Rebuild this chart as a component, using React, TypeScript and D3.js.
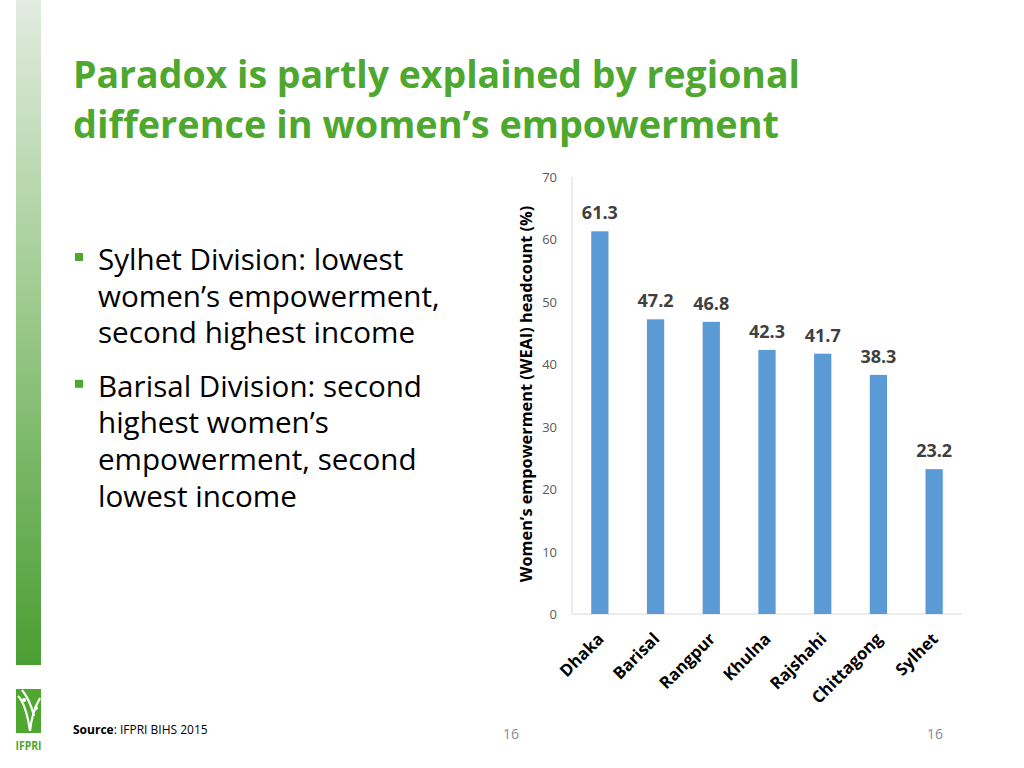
import React from "react";
import * as d3 from "d3";

const divisions = ["Dhaka", "Barisal", "Rangpur", "Khulna", "Rajshahi", "Chittagong", "Sylhet"];
const weai = [61.3, 47.2, 46.8, 42.3, 41.7, 38.3, 23.2];
const yTicks = [0, 10, 20, 30, 40, 50, 60, 70];
const titleLines = ["Paradox is partly explained by regional", "difference in women’s empowerment"];
const titleWidths = [727, 706];
const bullets = [
  ["Sylhet Division: lowest", "women’s empowerment,", "second highest income"],
  ["Barisal Division: second", "highest women’s", "empowerment, second", "lowest income"],
];

const font = "'Open Sans', Lato, sans-serif";

export default function App() {
  const left = 572;
  const right = 962;
  const top = 177;
  const bottom = 614;

  const x = d3.scaleBand().domain(divisions).range([left, right]).paddingInner(0.69).paddingOuter(0.345);
  const y = d3.scaleLinear().domain([0, 70]).range([bottom, top]);

  let lineY = 270;
  const bulletRows: { text: string; y: number; first: boolean }[] = [];
  bullets.forEach((b) => {
    b.forEach((t, i) => {
      bulletRows.push({ text: t, y: lineY, first: i === 0 });
      lineY += 36.6;
    });
    lineY += 17;
  });

  return (
    <svg width={1024} height={768} style={{ position: "absolute", left: 0, top: 0, background: "#fff" }}>
      <defs>
        <linearGradient id="stripe" x1="0" y1="0" x2="0" y2="1">
          <stop offset="0" stopColor="#e2ece0" />
          <stop offset="0.4" stopColor="#a6cf98" />
          <stop offset="1" stopColor="#4a9e32" />
        </linearGradient>
      </defs>
      <rect x={16} y={0} width={25} height={665} fill="url(#stripe)" />

      {/* logo */}
      <g>
        <rect x={16} y={689} width={25} height={44} fill="#4ea72e" />
        <path d="M18,696 Q26,704 30,731 M22,690 Q30,700 34,716 M40,698 Q32,712 30,731" stroke="#fff" strokeWidth={2.2} fill="none" />
        <circle cx={24} cy={700} r={2} fill="#fff" />
        <circle cx={36} cy={708} r={2} fill="#fff" />
        <text x={28.5} y={750} textAnchor="middle" fontFamily={font} fontWeight="bold" fontSize={12} fill="#4ea72e" textLength={26} lengthAdjust="spacingAndGlyphs">IFPRI</text>
      </g>

      {titleLines.map((t, i) => (
        <text
          key={t}
          x={73}
          y={88 + i * 50}
          fontFamily={font}
          fontWeight="bold"
          fontSize={38}
          fill="#4ea72e"
          textLength={titleWidths[i]}
          lengthAdjust="spacingAndGlyphs"
        >
          {t}
        </text>
      ))}

      {bulletRows.map((r) => (
        <g key={r.text}>
          {r.first && <rect x={75} y={r.y - 17} width={8} height={8} fill="#4ea72e" />}
          <text x={98} y={r.y} fontFamily={font} fontSize={29.6} fill="#000">
            {r.text}
          </text>
        </g>
      ))}

      {/* axes */}
      <line x1={left} x2={left} y1={top} y2={bottom} stroke="#d9d9d9" />
      <line x1={left} x2={right} y1={bottom} y2={bottom} stroke="#d9d9d9" />
      {yTicks.map((t) => (
        <text key={t} x={557} y={y(t) + 5} textAnchor="end" fontFamily={font} fontSize={13} fill="#595959">
          {t}
        </text>
      ))}
      <text
        transform={`translate(532,394) rotate(-90)`}
        textAnchor="middle"
        fontFamily={font}
        fontWeight="bold"
        fontSize={16.3}
        fill="#000"
      >
        Women’s empowerment (WEAI) headcount (%)
      </text>

      {divisions.map((d, i) => {
        const bx = x(d)!;
        const cx = bx + x.bandwidth() / 2;
        return (
          <g key={d}>
            <rect x={bx} y={y(weai[i])} width={x.bandwidth()} height={bottom - y(weai[i])} fill="#5b9bd5" />
            <text x={cx} y={y(weai[i]) - 12} textAnchor="middle" fontFamily={font} fontWeight="bold" fontSize={18} fill="#404040">
              {weai[i]}
            </text>
            <text
              transform={`translate(${cx + 5},${bottom + 26}) rotate(-45)`}
              textAnchor="end"
              fontFamily={font}
              fontWeight="bold"
              fontSize={16.7}
              fill="#000"
            >
              {d}
            </text>
          </g>
        );
      })}

      <text x={73} y={734} fontFamily={font} fontSize={12} fill="#000">
        <tspan fontWeight="bold">Source</tspan>: IFPRI BIHS 2015
      </text>
      <text x={511} y={739} textAnchor="middle" fontFamily={font} fontSize={14} fill="#8c8c8c">16</text>
      <text x={935} y={739} textAnchor="middle" fontFamily={font} fontSize={14} fill="#8c8c8c">16</text>
    </svg>
  );
}
